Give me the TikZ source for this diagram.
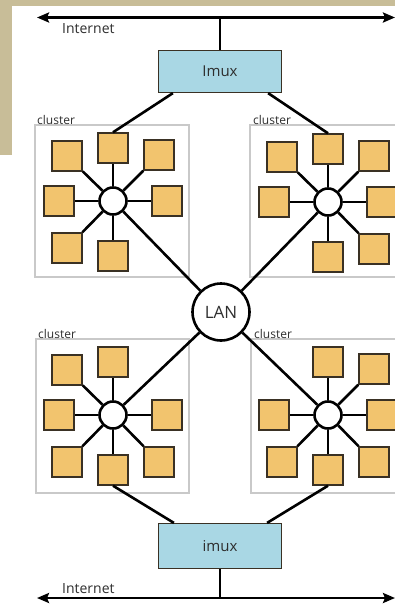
\documentclass[tikz,border=0pt]{standalone}
\usepackage{fontspec}
\setmainfont{Open Sans}
\usetikzlibrary{arrows.meta}

\definecolor{frametan}{HTML}{C8BD98}
\definecolor{hostfill}{HTML}{F2C46E}
\definecolor{hostedge}{HTML}{3A3124}
\definecolor{imuxfill}{HTML}{A9D7E4}
\definecolor{boxgrey}{HTML}{C9C9C9}
\definecolor{labelgrey}{HTML}{2E2E2E}

\begin{document}
\begin{tikzpicture}[x=1pt, y=-1pt,
  wire/.style={line width=2.6pt, draw=black},
  inet/.style={wire, {Stealth[length=12pt,width=10pt,inset=2pt]}-{Stealth[length=12pt,width=10pt,inset=2pt]}},
  host/.style={draw=hostedge, line width=1.4pt, fill=hostfill, minimum size=30pt, inner sep=0pt},
  hub/.style={circle, draw=black, line width=2.6pt, fill=white, minimum size=27pt, inner sep=0pt},
  imuxbox/.style={draw=hostedge, line width=1.2pt, fill=imuxfill, minimum width=123pt,
    minimum height=42pt, inner sep=0pt, text=labelgrey, font=\fontsize{15}{15}\selectfont},
  clusterbox/.style={draw=boxgrey, line width=1.2pt, inner sep=0pt},
  tag/.style={font=\fontsize{12}{12}\selectfont, text=labelgrey, inner sep=0pt, anchor=base west},
  nettag/.style={font=\fontsize{14}{14}\selectfont, text=labelgrey, inner sep=0pt, anchor=base west}]

\useasboundingbox (0,0) rectangle (395,605);
\clip (0,0) rectangle (395,605);

% page background with the tan frame in the upper left
\fill[white] (0,0) rectangle (395,605);
\fill[frametan] (0,0) rectangle (395,6);
\fill[frametan] (0,0) rectangle (12,155);

% cluster frames and their captions
\node[clusterbox, minimum width=154pt, minimum height=152pt] (tl-box) at (112,201) {};
\node[clusterbox, minimum width=155pt, minimum height=152pt] (tr-box) at (327.5,201) {};
\node[clusterbox, minimum width=153pt, minimum height=154pt] (bl-box) at (112.5,416) {};
\node[clusterbox, minimum width=155pt, minimum height=154pt] (br-box) at (328.5,416) {};
\node[tag] (tl-tag) at (37,124) {cluster};
\node[tag] (tr-tag) at (253,124) {cluster};
\node[tag] (bl-tag) at (38,338) {cluster};
\node[tag] (br-tag) at (254,338) {cluster};

% Internet backbones
\coordinate (inet-top-l) at (37,17.5);
\coordinate (inet-top-r) at (395,17.5);
\coordinate (inet-top-tap) at (220,17.5);
\coordinate (inet-bot-l) at (37,598);
\coordinate (inet-bot-r) at (395,598);
\coordinate (inet-bot-tap) at (220,598);
\draw[inet] (inet-top-l) -- (inet-top-r);
\draw[inet] (inet-bot-l) -- (inet-bot-r);
\node[nettag] (inet-top-tag) at (62,33) {Internet};
\node[nettag] (inet-bot-tag) at (62,593) {Internet};

% multiplexers
\node[imuxbox] (imux-top) at (220,71.5) {Imux};
\node[imuxbox, minimum height=45pt] (imux-bot) at (220,546) {imux};
\draw[wire] (imux-top.north) -- (inet-top-tap);
\draw[wire] (imux-bot.south) -- (inet-bot-tap);

% central LAN
\node[hub, minimum size=57pt, text=labelgrey, font=\fontsize{17}{17}\selectfont] (lan) at (221,312) {LAN};

% clusters: a hub with seven hosts around it, the eighth side goes to the LAN
\foreach \cl/\hx/\hy/\gap in {tl/113/201/se, tr/328/202/sw, bl/113/415/ne, br/328/415/nw} {
  \node[hub] (\cl-hub) at (\hx,\hy) {};
  \foreach \d/\dx/\dy in {n/0/-53, ne/46/-46, e/54/0, se/46/47, s/0/55, sw/-46/47, w/-54/0, nw/-46/-45} {
    \edef\dirname{\d}\edef\gapname{\gap}
    \ifx\dirname\gapname
      \draw[wire] (\cl-hub) -- (lan);
    \else
      \node[host] (\cl-\d) at (\hx+\dx,\hy+\dy) {};
      \draw[wire] (\cl-hub) -- (\cl-\d);
    \fi
  }
}

% multiplexer uplinks into the clusters
\draw[wire] ([xshift=15pt]imux-top.south west) -- (tl-n.north);
\draw[wire] ([xshift=-14pt]imux-top.south east) -- (tr-n.north);
\draw[wire] (bl-s.south) -- ([xshift=16pt]imux-bot.north west);
\draw[wire] (br-s.south) -- ([xshift=-15pt]imux-bot.north east);
\end{tikzpicture}
\end{document}
